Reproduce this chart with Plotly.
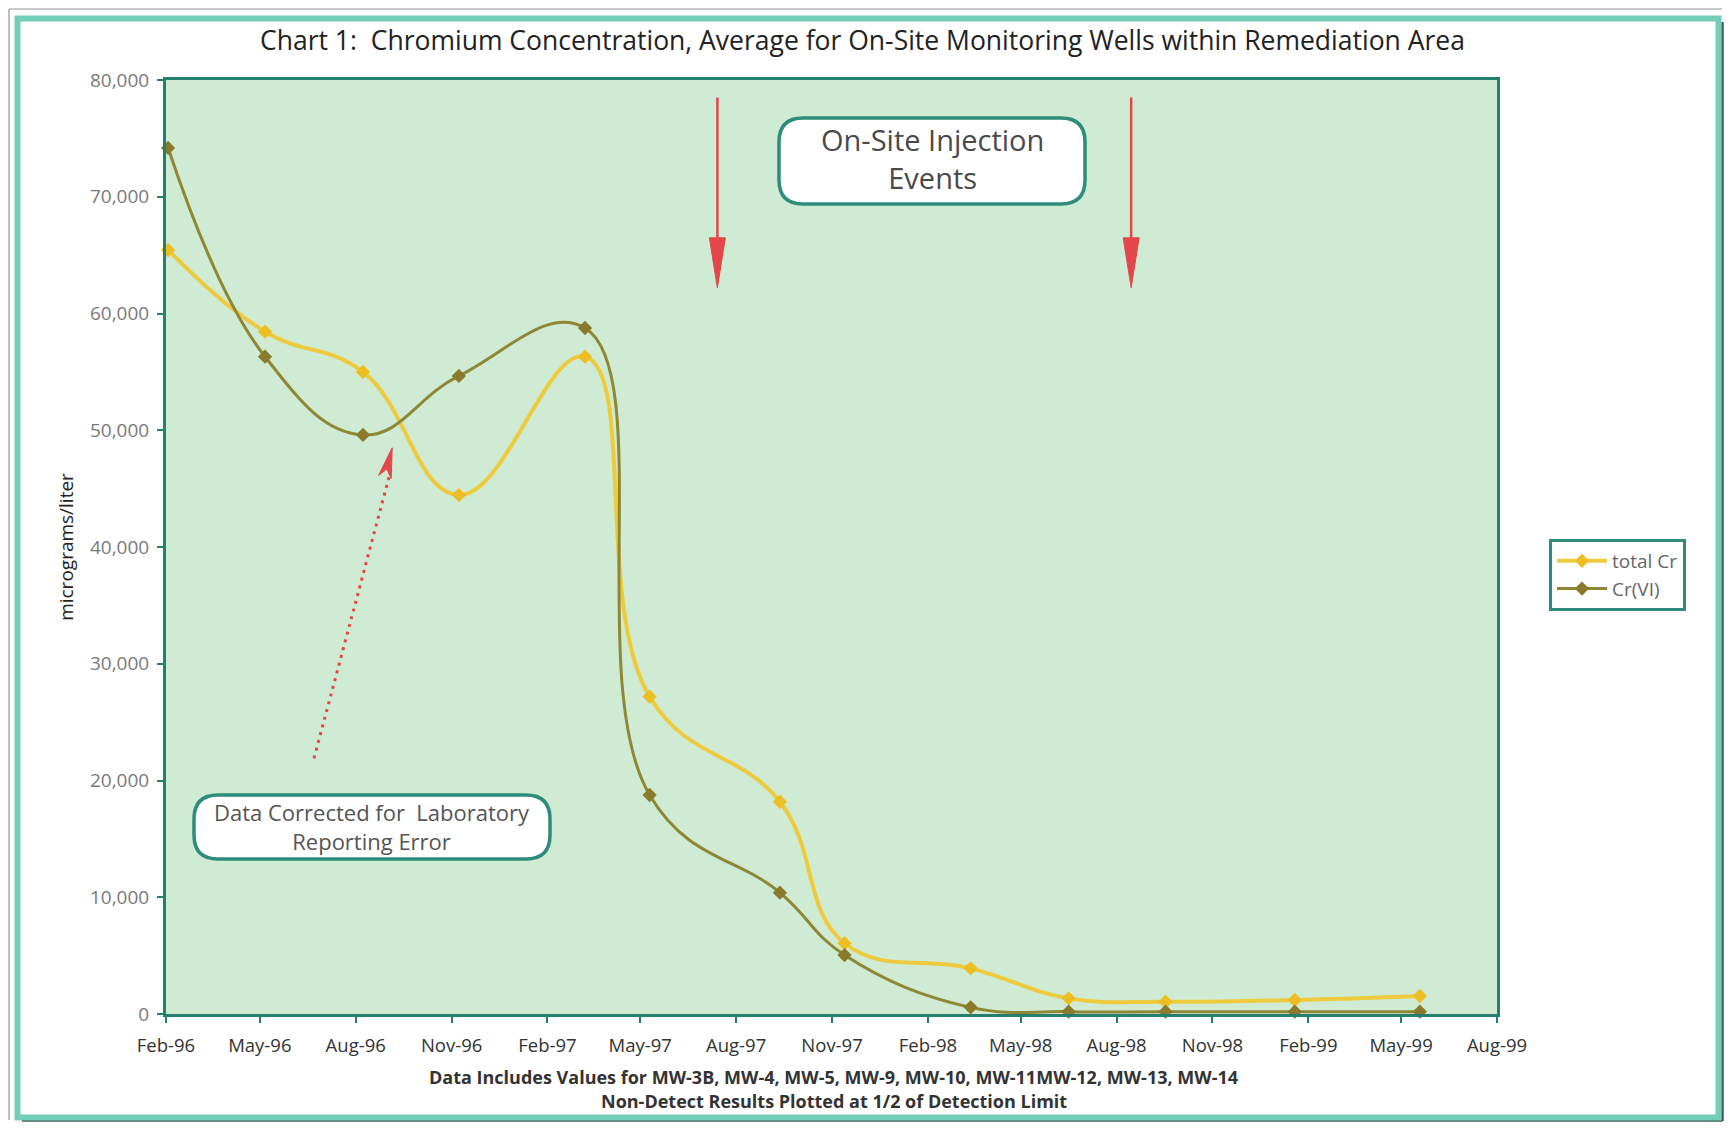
import math
import plotly.graph_objects as go

# ---------------- data ----------------
sample_dates = ["1996-02-03", "1996-05-06", "1996-08-08", "1996-11-08", "1997-03-09",
                "1997-05-10", "1997-09-12", "1997-11-13", "1998-03-14", "1998-06-16",
                "1998-09-17", "1999-01-19", "1999-05-19"]
total_cr = [65440, 58440, 55000, 44450, 56300, 27180, 18180, 6060, 3910, 1340, 1050, 1200, 1540]
cr_vi = [74180, 56300, 49600, 54650, 58760, 18760, 10390, 5050, 570, 200, 200, 200, 200]
series_names = ["total Cr", "Cr(VI)"]

injection_dates = ["1997-07-14", "1998-08-15"]
x_range = ["1996-02-01", "1999-08-01"]
y_range = [0, 80000]

title_text = "Chart 1:  Chromium Concentration, Average for On-Site Monitoring Wells within Remediation Area"
y_title = "micrograms/liter"
note1 = "Data Includes Values for MW-3B, MW-4, MW-5, MW-9, MW-10, MW-11MW-12, MW-13, MW-14"
note2 = "Non-Detect Results Plotted at 1/2 of Detection Limit"
injection_label = "On-Site Injection<br>Events"
lab_label = "Data Corrected for  Laboratory<br>Reporting Error"

# ---------------- layout geometry (reference-page pixels) ----------------
OFF = 8                      # browser body margin
FIG_W, FIG_H = 1716, 1114
L, R, T, B = 166, 1497, 80, 1014
W, H = R - L, B - T


def px(x):
    return (x - L) / W


def py(y):
    return (B - y) / H


FONT = "Open Sans"
TEAL_DARK = "#2E8C7A"
TEAL_FRAME = "#74CDB9"
RED = "#E4474B"

fig = go.Figure()

fig.add_trace(go.Scatter(
    x=sample_dates, y=total_cr, name=series_names[0], mode="lines+markers",
    line=dict(color="#EECB3E", width=4, shape="spline", smoothing=1.2),
    marker=dict(symbol="diamond", size=11, color="#EDBE22"),
    cliponaxis=False,
))
fig.add_trace(go.Scatter(
    x=sample_dates, y=cr_vi, name=series_names[1], mode="lines+markers",
    line=dict(color="#8E8734", width=3, shape="spline", smoothing=1.2),
    marker=dict(symbol="diamond", size=11, color="#8A7A2C"),
    cliponaxis=False,
))

shapes = []
annotations = []

# outer frame
shapes.append(dict(type="line", xref="paper", yref="paper", x0=px(9), x1=px(9), y0=py(9), y1=py(1120),
                   line=dict(color="#A8A8A8", width=1.5), layer="below"))
shapes.append(dict(type="line", xref="paper", yref="paper", x0=px(9), x1=px(1722), y0=py(9), y1=py(9),
                   line=dict(color="#B8B8B8", width=1.5), layer="below"))
shapes.append(dict(type="line", xref="paper", yref="paper", x0=px(1722.5), x1=px(1722.5), y0=py(22), y1=py(1121),
                   line=dict(color="#3E5A55", width=2.5), layer="below"))
shapes.append(dict(type="line", xref="paper", yref="paper", x0=px(22), x1=px(1722.5), y0=py(1120.5), y1=py(1120.5),
                   line=dict(color="#3E5A55", width=2.5), layer="below"))
shapes.append(dict(type="rect", xref="paper", yref="paper", x0=px(17.5), x1=px(1718.5), y0=py(18.5), y1=py(1117.5),
                   line=dict(color=TEAL_FRAME, width=6), layer="below"))


def rrect(x0, y0, x1, y1, r):
    a0, a1 = px(x0), px(x1)
    b0, b1 = py(y1), py(y0)
    rx, ry = r / W, r / H
    return (f"M {a0+rx},{b0} L {a1-rx},{b0} Q {a1},{b0} {a1},{b0+ry} "
            f"L {a1},{b1-ry} Q {a1},{b1} {a1-rx},{b1} L {a0+rx},{b1} "
            f"Q {a0},{b1} {a0},{b1-ry} L {a0},{b0+ry} Q {a0},{b0} {a0+rx},{b0} Z")


# injection events box
shapes.append(dict(type="path", xref="paper", yref="paper", path=rrect(779, 118, 1085, 204, 24),
                   fillcolor="white", line=dict(color=TEAL_DARK, width=3.5)))
annotations.append(dict(xref="paper", yref="paper", x=px(932), y=py(159), text=injection_label,
                        showarrow=False, font=dict(family=FONT, size=29, color="#4A4A4A"),
                        xanchor="center", yanchor="middle"))

# lab correction box
shapes.append(dict(type="path", xref="paper", yref="paper", path=rrect(194, 795, 550, 859, 24),
                   fillcolor="white", line=dict(color=TEAL_DARK, width=3.5)))
annotations.append(dict(xref="paper", yref="paper", x=px(372), y=py(826), text=lab_label,
                        showarrow=False, font=dict(family=FONT, size=22, color="#555555"),
                        xanchor="center", yanchor="middle"))

# injection arrows (red, pointing down)
arrow_top, arrow_tip = 78500, 62200
for d in injection_dates:
    shapes.append(dict(type="line", xref="x", yref="y", x0=d, x1=d, y0=arrow_top, y1=arrow_tip + 3000,
                       line=dict(color=RED, width=2.5)))
    shapes.append(dict(type="path", xref="x", yref="y", xsizemode="pixel", ysizemode="pixel",
                       xanchor=d, yanchor=arrow_tip, path="M -8,50 L 8,50 L 0,0 Z",
                       fillcolor=RED, line=dict(color=RED, width=1)))

# dotted arrow for lab correction
tail_date, tail_val = "1996-06-22", 21900
tip_date, tip_val = "1996-09-05", 48500
dx, dy = 77.6, 310.6
n = math.hypot(dx, dy)
ux, uy = dx / n, dy / n
vx, vy = uy, -ux
hl, hw = 30, 6.5
bx, by = -hl * ux, -hl * uy
nx_, ny_ = -22 * ux, -22 * uy
head = (f"M 0,0 L {bx+hw*vx:.2f},{by+hw*vy:.2f} L {nx_:.2f},{ny_:.2f} "
        f"L {bx-hw*vx:.2f},{by-hw*vy:.2f} Z")
shapes.append(dict(type="line", xref="x", yref="y", x0=tail_date, y0=tail_val, x1=tip_date, y1=tip_val - 1500,
                   line=dict(color=RED, width=3, dash="3px,5px")))
shapes.append(dict(type="path", xref="x", yref="y", xsizemode="pixel", ysizemode="pixel",
                   xanchor=tip_date, yanchor=tip_val, path=head,
                   fillcolor=RED, line=dict(color=RED, width=1)))

# title and notes
annotations.append(dict(xref="paper", yref="paper", x=px(862), y=py(40), text=title_text, showarrow=False,
                        font=dict(family=FONT, size=26.5, color="#222222"), xanchor="center", yanchor="middle"))
annotations.append(dict(xref="paper", yref="paper", x=px(834), y=py(1077), text="<b>" + note1 + "</b>",
                        showarrow=False, font=dict(family=FONT, size=18, color="#333333"),
                        xanchor="center", yanchor="middle"))
annotations.append(dict(xref="paper", yref="paper", x=px(834), y=py(1101), text="<b>" + note2 + "</b>",
                        showarrow=False, font=dict(family=FONT, size=18, color="#333333"),
                        xanchor="center", yanchor="middle"))

fig.update_layout(
    width=FIG_W, height=FIG_H,
    margin=dict(l=L - OFF, r=FIG_W - (R - OFF), t=T - OFF, b=FIG_H - (B - OFF), autoexpand=False),
    paper_bgcolor="white",
    plot_bgcolor="#CFEBD3",
    font=dict(family=FONT, color="#333333"),
    shapes=shapes,
    annotations=annotations,
    showlegend=True,
    legend=dict(x=px(1549), y=py(539), xanchor="left", yanchor="top",
                bgcolor="white", bordercolor=TEAL_DARK, borderwidth=3,
                font=dict(family=FONT, size=19, color="#666666"),
                itemwidth=50, tracegroupgap=0),
    xaxis=dict(
        type="date", range=x_range, tick0="1996-02-01", dtick="M3", tickformat="%b-%y",
        showgrid=False, zeroline=False,
        showline=True, linecolor="#23806F", linewidth=3, mirror=True,
        ticks="outside", ticklen=6, tickcolor="#23806F", tickwidth=1.5,
        ticklabelstandoff=7,
        tickfont=dict(family=FONT, size=18.5, color="#333333"),
    ),
    yaxis=dict(
        range=y_range, dtick=10000, tickformat=",",
        showgrid=False, zeroline=False,
        showline=True, linecolor="#23806F", linewidth=3, mirror=True,
        ticks="outside", ticklen=6, tickcolor="#23806F", tickwidth=1.5,
        ticklabelstandoff=4,
        tickfont=dict(family=FONT, size=19, color="#7A7A7A"),
        title=dict(text=y_title, standoff=12, font=dict(family=FONT, size=19, color="#222222")),
    ),
)

fig.write_html("out.html")
